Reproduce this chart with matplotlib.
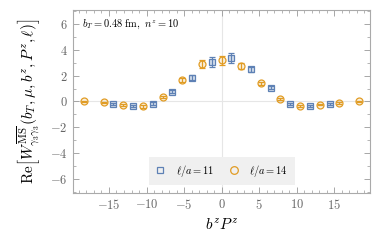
import matplotlib
matplotlib.use("Agg")
import matplotlib.pyplot as plt
from matplotlib.lines import Line2D
from matplotlib.ticker import MultipleLocator, FuncFormatter

plt.rcParams['mathtext.fontset'] = 'cm'
plt.rcParams['font.family'] = 'serif'
plt.rcParams['font.serif'] = ['DejaVu Serif']

# l/a = 14 (orange circles)
x14 = [-18.33, -15.71, -13.09, -10.47, -7.85, -5.24, -2.62, 0.0,
       2.62, 5.24, 7.85, 10.47, 13.09, 15.71, 18.33]
y14 = [0.0, -0.08, -0.28, -0.38, 0.34, 1.68, 2.92, 3.20,
       2.75, 1.42, 0.16, -0.36, -0.24, -0.10, 0.0]
e14 = [0.05, 0.06, 0.08, 0.10, 0.10, 0.15, 0.30, 0.36,
       0.26, 0.12, 0.08, 0.08, 0.07, 0.06, 0.05]

# l/a = 11 (blue squares)
x11 = [-14.40, -11.78, -9.16, -6.55, -3.93, -1.31,
       1.31, 3.93, 6.55, 9.16, 11.78, 14.40]
y11 = [-0.22, -0.34, -0.17, 0.75, 1.85, 3.07,
       3.35, 2.49, 1.07, -0.22, -0.36, -0.22]
e11 = [0.08, 0.08, 0.10, 0.12, 0.18, 0.37,
       0.39, 0.20, 0.10, 0.08, 0.08, 0.08]

blue = '#5e81b5'
orange = '#e19c24'

fig = plt.figure(figsize=(3.82, 2.43), dpi=100)
ax = fig.add_axes([0.191, 0.206, 0.778, 0.753])

ax.axhline(0, color='#e6e6e6', lw=0.8, zorder=0)
ax.axvline(0, color='#e6e6e6', lw=0.8, zorder=0)

ax.errorbar(x11, y11, yerr=e11, fmt='s', ms=4.3, mfc=(0.37, 0.51, 0.71, 0.25),
            mec=blue, mew=0.9, ecolor=blue, elinewidth=0.9, capsize=2.3,
            capthick=0.9, zorder=3)
ax.errorbar(x14, y14, yerr=e14, fmt='o', ms=5.0, mfc=(0.88, 0.61, 0.14, 0.15),
            mec=orange, mew=0.9, ecolor=orange, elinewidth=0.9, capsize=2.3,
            capthick=0.9, zorder=3)

ax.set_xlim(-19.8, 19.8)
ax.set_ylim(-7.1, 7.1)
ax.xaxis.set_major_locator(MultipleLocator(5))
ax.xaxis.set_minor_locator(MultipleLocator(1))
ax.yaxis.set_major_locator(MultipleLocator(2))
ax.yaxis.set_minor_locator(MultipleLocator(1))
fmt = FuncFormatter(lambda v, p: r'$%d$' % round(v))
ax.xaxis.set_major_formatter(fmt)
ax.yaxis.set_major_formatter(fmt)
ax.tick_params(which='both', direction='in', top=True, right=True,
               color='#999999', labelcolor='#666666', labelsize=9, pad=4)
ax.tick_params(which='major', length=4, width=0.6)
ax.tick_params(which='minor', length=2, width=0.5)
ax.tick_params(axis='x', which='both', labeltop=False)
for s in ax.spines.values():
    s.set_color('#aaaaaa')
    s.set_linewidth(0.8)

ax.text(0.03, 0.92, r'$b_T = 0.48\ \mathrm{fm},\ n^z = 10$', transform=ax.transAxes,
        fontsize=7.5, va='center', ha='left')

ax.set_xlabel(r'$b^z P^z$', fontsize=11, labelpad=3)
ax.set_ylabel(r'$\mathrm{Re}\left[W^{\overline{\mathrm{MS}}}_{\gamma_3\gamma_3}(b_T,\mu,b^z,P^z,\ell)\right]$',
              fontsize=11, labelpad=6)

handles = [Line2D([], [], ls='none', marker='s', ms=4.3, mfc='none', mec=blue, mew=0.9),
           Line2D([], [], ls='none', marker='o', ms=5.5, mfc='none', mec=orange, mew=0.9)]
leg = ax.legend(handles, [r'$\ell/a = 11$', r'$\ell/a = 14$'], ncol=2,
                loc='lower center', bbox_to_anchor=(0.5, 0.025), fontsize=7.5,
                frameon=True, fancybox=False, handlelength=1.0, columnspacing=1.4,
                handletextpad=1.0, borderpad=0.6, borderaxespad=0.3)
leg.get_frame().set_facecolor('#f0f0f0')
leg.get_frame().set_edgecolor('none')
leg.get_frame().set_alpha(1)

fig.savefig('out.png', dpi=100)
